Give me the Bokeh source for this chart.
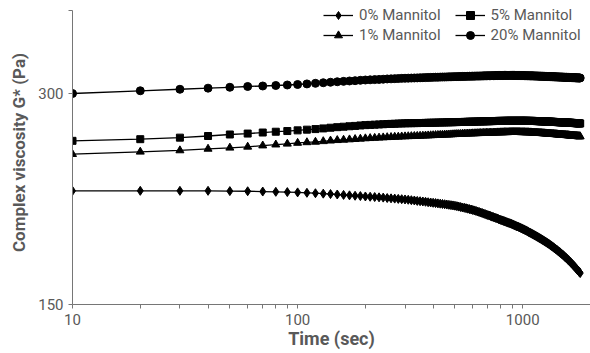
from bokeh.plotting import figure
from bokeh.models import Legend, LegendItem, FixedTicker, NumeralTickFormatter
from bokeh.embed import file_html
from bokeh.resources import INLINE

# ---------------- data ----------------
time_sec = list(range(10, 1810, 10))

mannitol_0 = [
    217.9, 217.9, 217.9, 217.9, 217.7, 217.6, 217.4, 217.2, 217.0, 216.8,
    216.5, 216.2, 215.9, 215.6, 215.3, 215.0, 214.7, 214.4, 214.2, 213.9,
    213.7, 213.5, 213.3, 213.1, 212.8, 212.6, 212.4, 212.2, 212.0, 211.8,
    211.6, 211.3, 211.1, 210.8, 210.6, 210.4, 210.2, 209.9, 209.7, 209.5,
    209.3, 209.1, 208.9, 208.7, 208.5, 208.3, 208.1, 207.9, 207.7, 207.5,
    207.2, 206.9, 206.6, 206.3, 206.1, 205.8, 205.5, 205.2, 204.9, 204.6,
    204.3, 204.0, 203.6, 203.3, 202.9, 202.6, 202.2, 201.9, 201.5, 201.2,
    200.9, 200.6, 200.2, 199.9, 199.6, 199.3, 199.0, 198.6, 198.3, 198.0,
    197.7, 197.4, 197.2, 196.9, 196.6, 196.3, 196.0, 195.8, 195.5, 195.2,
    194.9, 194.6, 194.3, 194.0, 193.8, 193.5, 193.2, 192.9, 192.6, 192.3,
    192.0, 191.7, 191.4, 191.1, 190.8, 190.4, 190.1, 189.8, 189.5, 189.2,
    188.9, 188.6, 188.3, 188.0, 187.7, 187.4, 187.1, 186.8, 186.5, 186.2,
    185.9, 185.6, 185.3, 185.0, 184.7, 184.4, 184.1, 183.8, 183.5, 183.2,
    182.9, 182.6, 182.2, 181.9, 181.6, 181.3, 181.0, 180.6, 180.3, 180.0,
    179.7, 179.4, 179.0, 178.7, 178.4, 178.1, 177.8, 177.4, 177.1, 176.8,
    176.5, 176.1, 175.8, 175.4, 175.1, 174.8, 174.4, 174.1, 173.7, 173.4,
    173.0, 172.7, 172.3, 172.0, 171.6, 171.3, 170.9, 170.6, 170.2, 169.9,
    169.5, 169.2, 168.8, 168.4, 168.1, 167.7, 167.4, 167.0, 166.7, 166.3,
]

mannitol_1 = [
    245.8, 247.7, 248.8, 250.1, 251.0, 251.8, 252.8, 253.6, 254.3, 255.0,
    255.5, 255.9, 256.4, 256.9, 257.3, 257.6, 257.9, 258.2, 258.5, 258.8,
    259.0, 259.2, 259.4, 259.6, 259.8, 259.9, 260.1, 260.2, 260.4, 260.5,
    260.6, 260.7, 260.8, 260.9, 261.0, 261.1, 261.2, 261.3, 261.4, 261.5,
    261.6, 261.7, 261.8, 261.9, 262.0, 262.0, 262.1, 262.2, 262.3, 262.4,
    262.5, 262.5, 262.6, 262.7, 262.8, 262.8, 262.9, 263.0, 263.0, 263.1,
    263.1, 263.2, 263.2, 263.3, 263.3, 263.4, 263.4, 263.5, 263.5, 263.6,
    263.6, 263.7, 263.7, 263.7, 263.8, 263.8, 263.9, 263.9, 263.9, 264.0,
    264.0, 264.0, 264.1, 264.1, 264.1, 264.1, 264.2, 264.2, 264.2, 264.2,
    264.2, 264.2, 264.2, 264.2, 264.2, 264.2, 264.2, 264.1, 264.1, 264.1,
    264.1, 264.1, 264.0, 264.0, 264.0, 264.0, 263.9, 263.9, 263.9, 263.8,
    263.8, 263.7, 263.7, 263.6, 263.6, 263.5, 263.5, 263.4, 263.4, 263.3,
    263.3, 263.2, 263.2, 263.1, 263.1, 263.0, 263.0, 262.9, 262.9, 262.8,
    262.8, 262.7, 262.7, 262.6, 262.6, 262.5, 262.5, 262.4, 262.4, 262.3,
    262.3, 262.2, 262.2, 262.1, 262.1, 262.0, 262.0, 261.9, 261.9, 261.8,
    261.8, 261.7, 261.7, 261.6, 261.6, 261.5, 261.5, 261.5, 261.4, 261.4,
    261.3, 261.3, 261.2, 261.2, 261.1, 261.1, 261.0, 261.0, 260.9, 260.9,
    260.8, 260.8, 260.8, 260.7, 260.7, 260.6, 260.6, 260.6, 260.5, 260.5,
]

mannitol_5 = [
    256.8, 258.2, 259.5, 260.9, 262.2, 263.0, 263.9, 264.6, 265.2, 265.8,
    266.4, 266.9, 267.5, 268.1, 268.6, 269.0, 269.4, 269.7, 270.1, 270.4,
    270.6, 270.8, 271.0, 271.2, 271.4, 271.5, 271.6, 271.8, 271.9, 272.0,
    272.1, 272.1, 272.2, 272.2, 272.3, 272.3, 272.4, 272.5, 272.5, 272.6,
    272.6, 272.7, 272.7, 272.8, 272.8, 272.9, 272.9, 273.0, 273.0, 273.1,
    273.1, 273.2, 273.2, 273.2, 273.3, 273.3, 273.4, 273.4, 273.5, 273.5,
    273.5, 273.6, 273.6, 273.7, 273.7, 273.7, 273.8, 273.8, 273.9, 273.9,
    273.9, 274.0, 274.0, 274.0, 274.1, 274.1, 274.1, 274.2, 274.2, 274.2,
    274.2, 274.2, 274.2, 274.3, 274.3, 274.3, 274.3, 274.3, 274.3, 274.3,
    274.3, 274.3, 274.3, 274.3, 274.3, 274.3, 274.3, 274.3, 274.3, 274.3,
    274.3, 274.3, 274.3, 274.3, 274.2, 274.2, 274.2, 274.2, 274.2, 274.2,
    274.2, 274.1, 274.1, 274.1, 274.0, 274.0, 274.0, 273.9, 273.9, 273.9,
    273.8, 273.8, 273.8, 273.7, 273.7, 273.7, 273.6, 273.6, 273.6, 273.5,
    273.5, 273.5, 273.4, 273.4, 273.4, 273.3, 273.3, 273.3, 273.2, 273.2,
    273.2, 273.1, 273.1, 273.1, 273.0, 273.0, 273.0, 272.9, 272.9, 272.9,
    272.8, 272.8, 272.8, 272.7, 272.7, 272.7, 272.6, 272.6, 272.6, 272.6,
    272.5, 272.5, 272.5, 272.4, 272.4, 272.4, 272.3, 272.3, 272.3, 272.2,
    272.2, 272.2, 272.1, 272.1, 272.1, 272.0, 272.0, 272.0, 271.9, 271.9,
]

mannitol_20 = [
    300.0, 302.7, 304.2, 305.3, 306.2, 307.0, 307.5, 308.0, 308.5, 309.0,
    309.6, 310.2, 310.8, 311.3, 311.8, 312.2, 312.6, 312.9, 313.3, 313.6,
    313.8, 314.0, 314.2, 314.4, 314.7, 314.8, 315.0, 315.1, 315.3, 315.4,
    315.5, 315.6, 315.7, 315.8, 315.9, 316.0, 316.1, 316.2, 316.3, 316.4,
    316.5, 316.5, 316.6, 316.7, 316.7, 316.8, 316.9, 316.9, 317.0, 317.1,
    317.1, 317.2, 317.2, 317.3, 317.3, 317.4, 317.4, 317.5, 317.5, 317.6,
    317.6, 317.7, 317.7, 317.7, 317.8, 317.8, 317.9, 317.9, 318.0, 318.0,
    318.0, 318.1, 318.1, 318.1, 318.2, 318.2, 318.2, 318.3, 318.3, 318.3,
    318.3, 318.3, 318.4, 318.4, 318.4, 318.4, 318.4, 318.4, 318.4, 318.4,
    318.4, 318.4, 318.3, 318.3, 318.3, 318.3, 318.3, 318.2, 318.2, 318.2,
    318.2, 318.1, 318.1, 318.1, 318.0, 318.0, 318.0, 317.9, 317.9, 317.9,
    317.9, 317.8, 317.8, 317.8, 317.7, 317.7, 317.7, 317.6, 317.6, 317.6,
    317.5, 317.5, 317.5, 317.4, 317.4, 317.3, 317.3, 317.3, 317.2, 317.2,
    317.2, 317.1, 317.1, 317.1, 317.0, 317.0, 317.0, 316.9, 316.9, 316.9,
    316.8, 316.8, 316.8, 316.7, 316.7, 316.7, 316.6, 316.6, 316.6, 316.6,
    316.5, 316.5, 316.5, 316.4, 316.4, 316.4, 316.4, 316.3, 316.3, 316.3,
    316.2, 316.2, 316.2, 316.1, 316.1, 316.1, 316.0, 316.0, 316.0, 316.0,
    315.9, 315.9, 315.9, 315.8, 315.8, 315.8, 315.8, 315.7, 315.7, 315.7,
]

x_major_ticks = [10, 100, 1000]
x_minor_ticks = [20, 30, 40, 50, 60, 70, 80, 90,
                 200, 300, 400, 500, 600, 700, 800, 900, 2000]
y_major_ticks = [150, 300]

series_names = ["0% Mannitol", "1% Mannitol", "5% Mannitol", "20% Mannitol"]
x_title = "Time (sec)"
y_title = "Complex viscosity G* (Pa)"

# ---------------- styling ----------------
FONT = "Roboto"
GREY = "#595959"
AXIS = "#767676"

p = figure(width=590, height=353, x_axis_type="log", y_axis_type="log",
           x_range=(10, 2000), y_range=(150, 407.2),
           output_backend="svg", toolbar_location=None,
           min_border_left=72, min_border_right=0,
           min_border_top=0, min_border_bottom=49)

p.xgrid.visible = False
p.ygrid.visible = False
p.outline_line_color = None
p.background_fill_color = "white"
p.border_fill_color = "white"

for ax in (p.xaxis[0], p.yaxis[0]):
    ax.axis_line_color = AXIS
    ax.axis_line_width = 1
    ax.major_tick_line_color = AXIS
    ax.minor_tick_line_color = AXIS
    ax.major_tick_in = 0
    ax.major_tick_out = 4
    ax.minor_tick_in = 0
    ax.minor_tick_out = 4
    ax.major_label_text_font = FONT
    ax.major_label_text_font_size = "15px"
    ax.major_label_text_color = GREY
    ax.formatter = NumeralTickFormatter(format="0")
    ax.axis_label_text_font = FONT
    ax.axis_label_text_font_style = "bold"
    ax.axis_label_text_color = GREY

p.xaxis[0].ticker = FixedTicker(ticks=x_major_ticks, minor_ticks=x_minor_ticks)
p.yaxis[0].ticker = FixedTicker(ticks=y_major_ticks, minor_ticks=[393.5])
p.yaxis[0].bounds = (150, 394)

p.xaxis[0].axis_label = x_title
p.xaxis[0].axis_label_text_font_size = "18px"
p.xaxis[0].axis_label_standoff = 0
p.yaxis[0].axis_label = y_title
p.yaxis[0].axis_label_text_font_size = "17px"
p.yaxis[0].axis_label_standoff = 6

markers = {"0% Mannitol": ("diamond", 9),
           "1% Mannitol": ("triangle", 8),
           "5% Mannitol": ("square", 7),
           "20% Mannitol": ("circle", 8)}
values = {"0% Mannitol": mannitol_0, "1% Mannitol": mannitol_1,
          "5% Mannitol": mannitol_5, "20% Mannitol": mannitol_20}

rends = {}
for name in series_names:
    mk, sz = markers[name]
    ln = p.line(time_sec, values[name], line_color="black", line_width=1.3)
    sc = p.scatter(time_sec, values[name], marker=mk, size=sz,
                   fill_color="black", line_color="black")
    rends[name] = [ln, sc]


def make_legend(names, loc):
    return Legend(items=[LegendItem(label=n, renderers=rends[n]) for n in names],
                  orientation="horizontal", location=loc,
                  padding=0, margin=0, spacing=14,
                  glyph_width=30, glyph_height=20, label_height=20,
                  label_standoff=6, label_text_font=FONT,
                  label_text_font_size="15px", label_text_color=GREY,
                  border_line_color=None, background_fill_alpha=0)


p.add_layout(make_legend(["0% Mannitol", "5% Mannitol"], (251, 279)))
p.add_layout(make_legend(["1% Mannitol", "20% Mannitol"], (251, 259)))

open("out.html", "w").write(file_html(p, INLINE))
